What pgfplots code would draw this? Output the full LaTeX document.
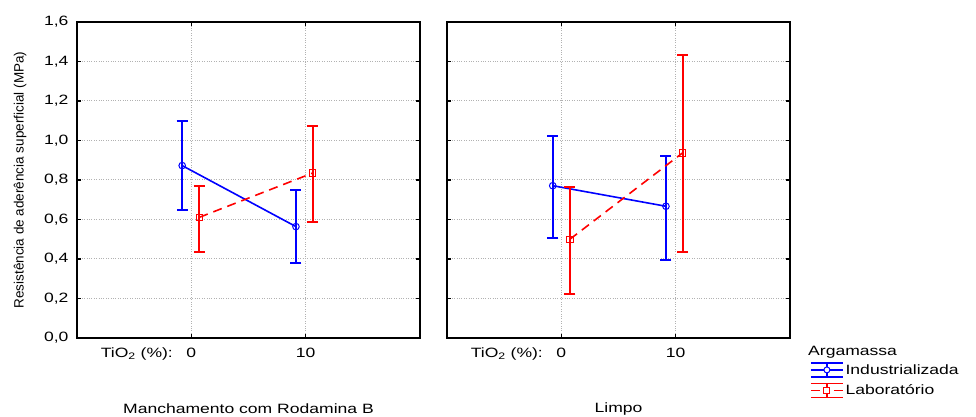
\documentclass[border=0pt]{standalone}
\usepackage{fontspec}
\setmainfont{Liberation Sans}
\newfontfamily\wide[FakeStretch=1.3]{Liberation Sans}
\usepackage{pgfplots}
\pgfplotsset{compat=1.18}
\newcommand\lf{\wide\fontsize{13.5}{16}\selectfont}
\pgfplotsset{
 panel/.style={
  scale only axis, width=343pt, height=316pt,
  xmin=-10, xmax=20, ymin=0, ymax=1.6, clip=false,
  xtick={0,10}, xticklabels={0,10}, ytick={0,0.2,0.4,0.6,0.8,1.0,1.2,1.4,1.6},
  tick align=inside, tick pos=both,
  major tick length=4pt,
  every tick/.style={black, line width=1.2pt},
  axis line style={line width=1.6pt},
  grid=major, major grid style={dotted, gray!60, line width=1pt},
  ticklabel style={font=\lf},
  /pgf/number format/.cd, use comma, fixed, fixed zerofill, precision=1, assume math mode=true,
  /pgfplots/.cd,
 },
 ind/.style={blue, line width=1.6pt, mark=o, mark size=3.3pt,
  mark options={solid, fill=white, line width=1pt},
  error bars/.cd, y dir=both, y explicit,
  error bar style={line width=2pt, solid},
  error mark options={rotate=90, mark size=5.5pt, line width=2pt, solid},
  /pgfplots/.cd},
 lab/.style={red, line width=1.6pt, dash pattern=on 9pt off 6pt, mark=square, mark size=3.2pt,
  mark options={solid, fill=white, line width=1pt},
  error bars/.cd, y dir=both, y explicit,
  error bar style={line width=2pt, solid},
  error mark options={rotate=90, mark size=5.5pt, line width=2pt, solid},
  /pgfplots/.cd},
}
\begin{document}
\begin{tikzpicture}
\useasboundingbox (0,0) rectangle (976pt,417pt);
\begin{axis}[panel, at={(77pt,79pt)}, anchor=south west,
  xticklabel style={yshift=-7pt},
  yticklabel style={xshift=-5pt},
  ylabel={Resistência de aderência superficial (MPa)},
  ylabel style={at={(axis description cs:-0.166,0.5)}, anchor=center, font=\fontsize{13.5}{16}\selectfont},
  xlabel={Manchamento com Rodamina B},
  xlabel style={at={(axis description cs:0.5,-0.225)}, anchor=center, font=\lf},
]
\addplot[ind] coordinates {(-0.8,0.873) += (0,0.224) -= (0,0.227) (9.15,0.564) += (0,0.184) -= (0,0.183)};
\addplot[lab] coordinates {(0.7,0.611) += (0,0.159) -= (0,0.174) (10.6,0.835) += (0,0.238) -= (0,0.249)};
\node[anchor=east, font=\lf, inner sep=0pt] at (axis description cs:0.28,-0.05) {TiO\textsubscript{2} (\%):};
\end{axis}
\begin{axis}[panel, at={(447pt,79pt)}, anchor=south west,
  xticklabel style={yshift=-7pt},
  yticklabels={},
  xlabel={Limpo},
  xlabel style={at={(axis description cs:0.5,-0.225)}, anchor=center, font=\lf},
  legend style={at={(axis description cs:1,0)}, anchor=north west, xshift=20pt, yshift=-24pt,
    draw=none, fill=none, font=\lf, inner sep=0pt, row sep=5pt},
  legend cell align=left,
]
\addplot[forget plot, ind] coordinates {(-0.75,0.771) += (0,0.252) -= (0,0.263) (9.15,0.667) += (0,0.256) -= (0,0.270)};
\addplot[forget plot, lab] coordinates {(0.75,0.500) += (0,0.265) -= (0,0.279) (10.6,0.937) += (0,0.497) -= (0,0.500)};
\addlegendimage{legend image code/.code={
 \draw[blue, line width=1.4pt] (0pt,7pt) -- (32pt,7pt) (0pt,0pt) -- (32pt,0pt) (0pt,-7pt)--(32pt,-7pt) (16pt,7pt)--(16pt,-7pt);
 \draw[blue, fill=white, line width=1pt] (16pt,0pt) circle (3pt);}}
\addlegendentry{Industrializada}
\addlegendimage{legend image code/.code={
 \draw[red, line width=1.4pt] (0pt,7pt) -- (32pt,7pt) (0pt,0pt) -- (9pt,0pt) (23pt,0pt) -- (32pt,0pt) (0pt,-7pt)--(32pt,-7pt) (16pt,7pt)--(16pt,-7pt);
 \draw[red, fill=white, line width=1pt] (13pt,-3pt) rectangle (19pt,3pt);}}
\addlegendentry{Laboratório}
\node[anchor=east, font=\lf, inner sep=0pt] at (axis description cs:0.28,-0.05) {TiO\textsubscript{2} (\%):};
\node[anchor=west, font=\lf, inner sep=0pt, xshift=18pt, yshift=-14pt] at (axis description cs:1,0) {Argamassa};
\end{axis}
\end{tikzpicture}
\end{document}
